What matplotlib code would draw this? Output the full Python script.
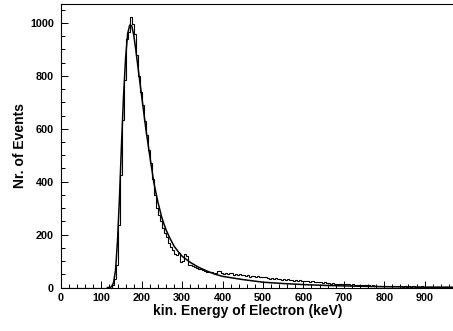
import numpy as np
import matplotlib
matplotlib.use("Agg")
import matplotlib.pyplot as plt
from matplotlib.ticker import MultipleLocator

plt.rcParams['font.family'] = ['Liberation Sans', 'DejaVu Sans']
plt.rcParams['font.weight'] = 'bold'

# energy spectrum, 5 keV bins from 0 to 1000 keV
bin_width = 5
counts = [0] * 25 + [
    8, 34, 85, 235, 425, 635, 785, 940, 965, 1021,
    995, 960, 880, 800, 740, 690, 630, 575, 520, 470,
    410, 350, 300, 275, 250, 225, 205, 190, 170, 155,
    140, 128, 122, 130, 95, 100, 128, 118, 85, 84,
    80, 76, 74,
    # 340 - 395 keV
    71, 70, 68, 62, 58, 57, 58, 56, 55, 62, 63, 55,
    # 400 - 995 keV
    52, 54, 50, 53, 55, 49, 52, 48, 50, 46,
    47, 44, 46, 41, 43, 45, 40, 42, 38, 41,
    38, 40, 36, 34, 37, 33, 35, 31, 33, 30,
    32, 29, 31, 27, 30, 26, 28, 25, 27, 24,
    26, 23, 25, 21, 23, 20, 22, 19, 21, 18,
    19, 17, 18, 15, 16, 14, 15, 13, 13, 12,
    14, 12, 13, 11, 12, 10, 11, 9, 10, 9,
    9, 8, 8, 7, 8, 6, 7, 6, 6, 5,
    6, 5, 5, 4, 6, 4, 5, 4, 4, 3,
    4, 3, 5, 3, 4, 3, 3, 2, 4, 3,
    3, 2, 3, 2, 3, 2, 2, 3, 2, 2,
    2, 1, 2, 2, 1, 2, 1, 1, 2, 1,
]

# fitted spectrum shape
fit_energy = [115, 120, 125, 130, 135, 140, 145, 150, 155, 160, 165, 170,
              175, 180, 185, 190, 200, 210, 220, 230, 240, 250, 260, 270,
              280, 290, 300, 320, 340, 360, 380, 400, 450, 500, 550, 600,
              650, 700, 800, 900, 1000]
fit_counts = [0, 0, 3, 18, 65, 180, 350, 550, 730, 870, 960, 992,
              990, 955, 900, 840, 720, 600, 495, 395, 322, 262, 218, 185,
              156, 136, 118, 95, 77, 63, 51, 42, 30, 20, 15, 11,
              8, 6, 3, 1.5, 1]

x_ticks = [0, 100, 200, 300, 400, 500, 600, 700, 800, 900]

edges = np.arange(len(counts) + 1) * bin_width

fig = plt.figure(figsize=(4.53, 3.31), dpi=100)
# axis runs to 1000 keV; the right end falls outside the canvas
ax = fig.add_axes([61 / 453, 43.5 / 331, 404 / 453, 283.5 / 331])

ax.stairs(counts, edges, color='black', lw=0.8)
ax.plot(fit_energy, fit_counts, color='black', lw=1.1)

ax.set_xlim(0, 1000)
ax.set_ylim(0, 1072)
ax.set_xticks(x_ticks)
ax.xaxis.set_minor_locator(MultipleLocator(20))
ax.yaxis.set_major_locator(MultipleLocator(200))
ax.yaxis.set_minor_locator(MultipleLocator(50))
ax.tick_params(which='both', direction='in', top=False, right=False,
               labelsize=7.8, width=0.7)
ax.tick_params(which='major', length=5)
ax.tick_params(which='minor', length=3)
ax.tick_params(axis='x', which='major', pad=4.3)
ax.tick_params(axis='y', which='major', pad=5)
for s in ax.spines.values():
    s.set_linewidth(0.8)

ax.set_xlabel('kin. Energy of Electron (keV)', fontsize=10, fontweight='bold')
ax.set_ylabel('Nr. of Events', fontsize=10, fontweight='bold')
ax.xaxis.set_label_coords((248 - 61) / 404, -0.058)
ax.yaxis.set_label_coords(-0.084, 0.5)

fig.savefig('out.png', dpi=100)
